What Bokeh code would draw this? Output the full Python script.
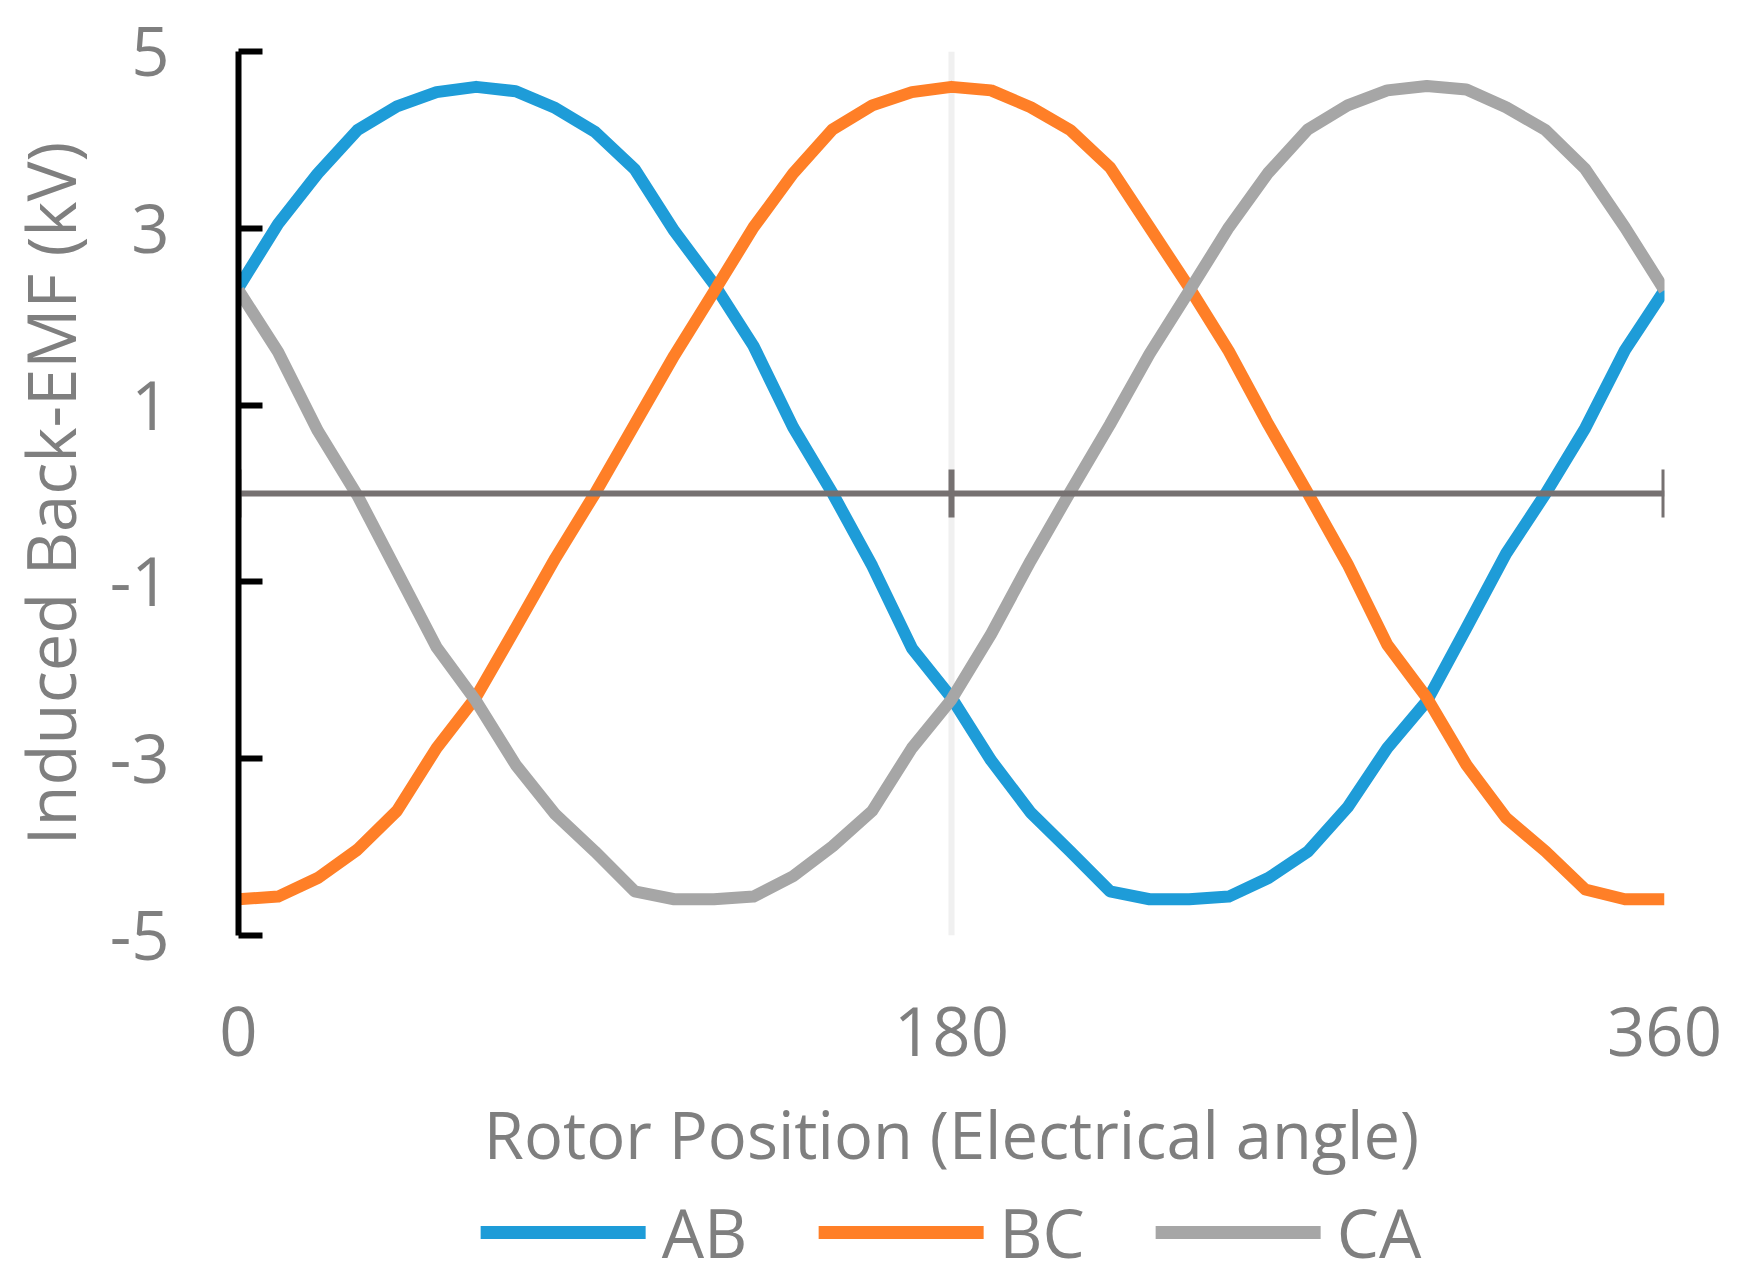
from bokeh.plotting import figure
from bokeh.models import Range1d, LinearAxis, FixedTicker, Legend, LegendItem
from bokeh.layouts import column
from bokeh.embed import file_html
from bokeh.resources import INLINE

# ---- data ----
angle = [0, 10, 20, 30, 40, 50, 60, 70, 80, 90, 100, 110, 120, 130, 140, 150, 160, 170, 180,
         190, 200, 210, 220, 230, 240, 250, 260, 270, 280, 290, 300, 310, 320, 330, 340, 350, 360]
ab = [2.33, 3.05, 3.62, 4.11, 4.38, 4.54, 4.60, 4.55, 4.36, 4.09, 3.67, 2.97, 2.37, 1.67, 0.75, 0.00,
      -0.82, -1.75, -2.31, -3.02, -3.61, -4.05, -4.50, -4.59, -4.59, -4.56, -4.35, -4.05, -3.55, -2.88,
      -2.35, -1.52, -0.68, 0.00, 0.74, 1.62, 2.30]
bc = [-4.59, -4.56, -4.35, -4.03, -3.59, -2.88, -2.30, -1.52, -0.73, 0.00, 0.78, 1.56, 2.28, 3.01,
      3.62, 4.12, 4.39, 4.54, 4.60, 4.56, 4.37, 4.11, 3.69, 3.01, 2.33, 1.61, 0.78, 0.00, -0.80, -1.71,
      -2.31, -3.07, -3.67, -4.05, -4.48, -4.59, -4.59]
ca = [2.30, 1.60, 0.71, -0.02, -0.88, -1.74, -2.35, -3.07, -3.63, -4.05, -4.50, -4.59, -4.59, -4.56,
      -4.33, -3.99, -3.59, -2.88, -2.33, -1.59, -0.76, 0.02, 0.78, 1.58, 2.29, 3.01, 3.63, 4.12, 4.39,
      4.56, 4.61, 4.57, 4.37, 4.11, 3.67, 3.01, 2.30]
series_names = ["AB", "BC", "CA"]
series_values = [ab, bc, ca]
x_ticks = [0, 180, 360]
y_ticks = [-5, -3, -1, 1, 3, 5]
y_tick_labels = ["-5", "-3", "-1", "1", "3", "5"]
x_title = "Rotor Position (Electrical angle)"
y_title = "Induced Back-EMF (kV)"

# ---- styles ----
colors = ["#1E9CD8", "#FF7F27", "#A6A6A6"]
text_gray = "#7F7F7F"
axis_gray = "#767171"
FONT = "Open Sans"

p = figure(width=1733, height=1186,
           min_border_left=234, min_border_right=55, min_border_top=51, min_border_bottom=251,
           x_range=Range1d(0, 360), y_range=Range1d(-5, 5),
           output_backend="svg", toolbar_location=None)
p.outline_line_color = None
p.background_fill_color = "white"
p.border_fill_color = "white"

# grid
p.ygrid.visible = False
p.xgrid.ticker = FixedTicker(ticks=x_ticks)
p.xgrid.grid_line_color = "#F0F0F0"
p.xgrid.grid_line_width = 6

# y axis
ya = p.yaxis[0]
ya.ticker = FixedTicker(ticks=y_ticks)
ya.major_label_overrides = {t: s for t, s in zip(y_ticks, y_tick_labels)}
ya.axis_line_color = "black"
ya.axis_line_width = 6
ya.major_tick_line_color = "black"
ya.major_tick_line_width = 6
ya.major_tick_in = 24
ya.major_tick_out = 0
ya.minor_tick_line_color = None
ya.major_label_text_font = FONT
ya.major_label_text_font_size = "67px"
ya.major_label_text_color = text_gray
ya.major_label_standoff = 69
ya.axis_label = y_title
ya.axis_label_text_font = FONT
ya.axis_label_text_font_size = "67px"
ya.axis_label_text_font_style = "normal"
ya.axis_label_text_color = text_gray
ya.axis_label_standoff = 11

# bottom axis: labels and title only
xa = p.xaxis[0]
xa.ticker = FixedTicker(ticks=x_ticks)
xa.axis_line_color = None
xa.major_tick_line_color = None
xa.minor_tick_line_color = None
xa.major_tick_out = 0
xa.major_tick_in = 0
xa.major_label_text_font = FONT
xa.major_label_text_font_size = "67px"
xa.major_label_text_color = text_gray
xa.major_label_standoff = 71
xa.axis_label = x_title
xa.axis_label_text_font = FONT
xa.axis_label_text_font_size = "65px"
xa.axis_label_text_font_style = "normal"
xa.axis_label_text_color = text_gray
xa.axis_label_standoff = 31

# axis line crossing at y = 0
zero_axis = LinearAxis(fixed_location=0, ticker=FixedTicker(ticks=x_ticks),
                       axis_line_color=axis_gray, axis_line_width=6,
                       major_tick_line_color=axis_gray, major_tick_line_width=6,
                       major_tick_in=24, major_tick_out=24,
                       minor_tick_line_color=None,
                       major_label_text_alpha=0, major_label_text_font_size="1px",
                       major_label_standoff=0)
p.add_layout(zero_axis, "above")

# series
for name, vals, col in zip(series_names, series_values, colors):
    p.line(angle, vals, line_color=col, line_width=12, line_join="round")

# legend strip below the chart (its own copies of the series are kept out of view)
lg = figure(width=1733, height=92,
            min_border_left=234, min_border_right=69, min_border_top=0, min_border_bottom=0,
            x_range=Range1d(-20, -10), y_range=Range1d(-20, -10),
            x_axis_location=None, y_axis_location=None,
            output_backend="svg", toolbar_location=None)
lg.outline_line_color = None
lg.xgrid.visible = False
lg.ygrid.visible = False
items = []
for name, vals, col in zip(series_names, series_values, colors):
    r = lg.line(angle, vals, line_color=col, line_width=13, line_cap="round")
    items.append(LegendItem(label=name, renderers=[r]))
legend = Legend(items=items, orientation="horizontal", location="center",
                border_line_color=None, background_fill_alpha=0,
                padding=0, margin=0, spacing=71,
                glyph_width=165, glyph_height=20, label_standoff=16,
                label_text_font=FONT, label_text_font_size="67px",
                label_text_color=text_gray)
lg.add_layout(legend, "center")

layout = column(p, lg, spacing=0)
open("out.html", "w").write(file_html(layout, INLINE))
